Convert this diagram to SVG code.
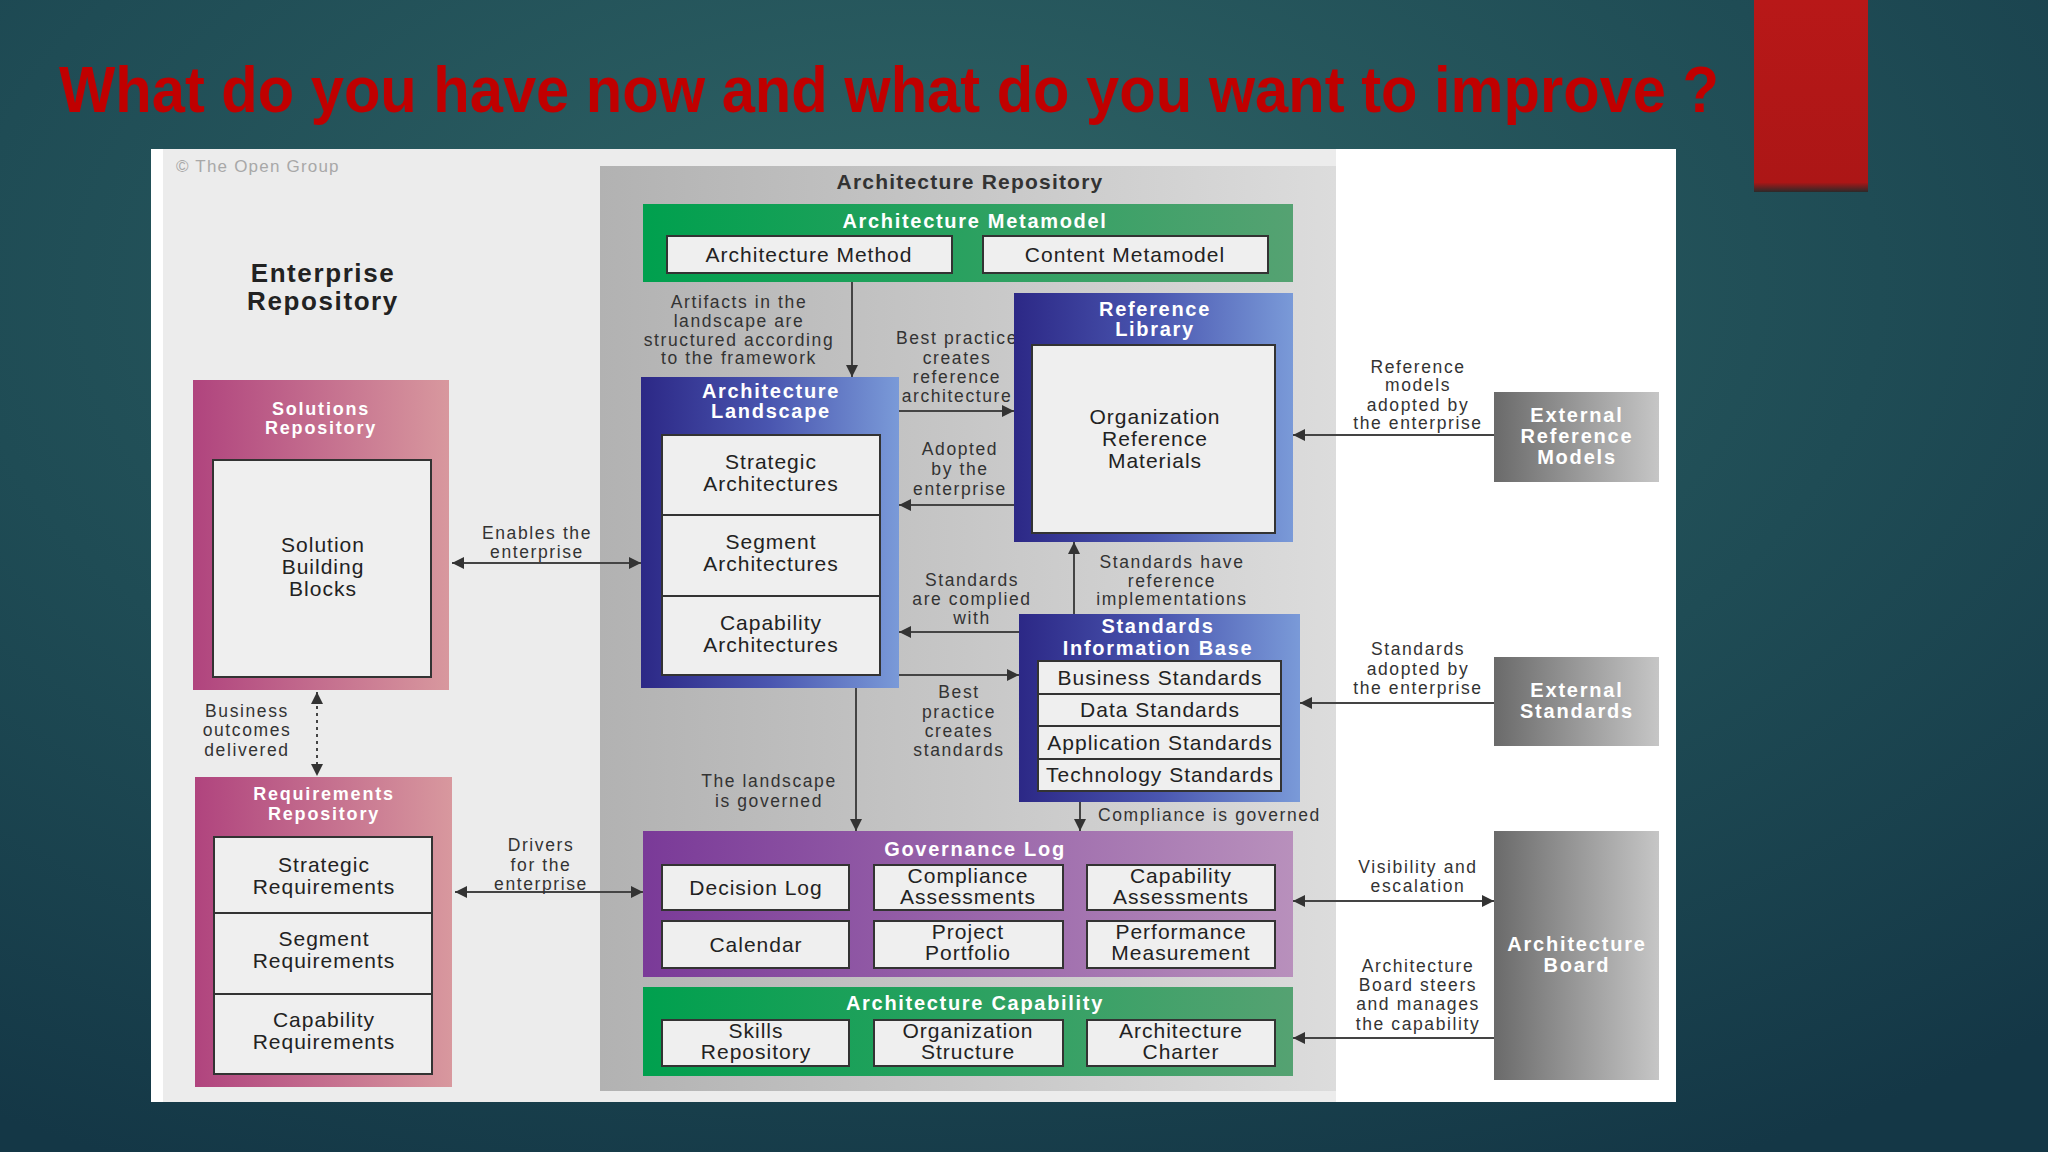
<svg xmlns="http://www.w3.org/2000/svg" width="2048" height="1152" viewBox="0 0 2048 1152">
<defs>
  <radialGradient id="bg" cx="0.45" cy="0.25" r="0.85">
    <stop offset="0" stop-color="#2f6466"/>
    <stop offset="0.55" stop-color="#1f4c55"/>
    <stop offset="1" stop-color="#143746"/>
  </radialGradient>
  <linearGradient id="gRepo" x1="0" y1="0" x2="1" y2="0">
    <stop offset="0" stop-color="#b2b2b2"/>
    <stop offset="1" stop-color="#dcdcdc"/>
  </linearGradient>
  <linearGradient id="gPink" x1="0" y1="0" x2="1" y2="0">
    <stop offset="0" stop-color="#b0447e"/>
    <stop offset="1" stop-color="#d8989e"/>
  </linearGradient>
  <linearGradient id="gBlue" x1="0" y1="0" x2="1" y2="0">
    <stop offset="0" stop-color="#2c2886"/>
    <stop offset="0.5" stop-color="#4a56b0"/>
    <stop offset="1" stop-color="#7a9ad8"/>
  </linearGradient>
  <linearGradient id="gPurple" x1="0" y1="0" x2="1" y2="0">
    <stop offset="0" stop-color="#7a3a98"/>
    <stop offset="1" stop-color="#b890bc"/>
  </linearGradient>
  <linearGradient id="gGreen" x1="0" y1="0" x2="1" y2="0">
    <stop offset="0" stop-color="#00a04e"/>
    <stop offset="1" stop-color="#55a272"/>
  </linearGradient>
  <linearGradient id="gGray" x1="0" y1="0" x2="1" y2="0">
    <stop offset="0" stop-color="#6a6a6a"/>
    <stop offset="1" stop-color="#c6c6c6"/>
  </linearGradient>
  <linearGradient id="gRed" x1="0" y1="0" x2="0" y2="1">
    <stop offset="0" stop-color="#b81818"/>
    <stop offset="0.95" stop-color="#ac1616"/>
    <stop offset="1" stop-color="#2a2a2a"/>
  </linearGradient>
  <marker id="ah" viewBox="0 0 10 10" refX="10" refY="5" markerWidth="12" markerHeight="12" markerUnits="userSpaceOnUse" orient="auto-start-reverse">
    <path d="M0,0 L10,5 L0,10 Z" fill="#333"/>
  </marker>
  <style>
    .inner { fill: #efefef; stroke: #333; stroke-width: 2; }
    .it { font-family: "Liberation Sans", Arial, sans-serif; font-size: 21px; fill: #222; text-anchor: middle; letter-spacing: 1px; }
    .ttl { font-family: "Liberation Sans", Arial, sans-serif; font-size: 20px; font-weight: bold; fill: #fff; text-anchor: middle; letter-spacing: 1.7px; }
    .ttls { font-size: 18px; letter-spacing: 1.8px; }
    .ext { font-family: "Liberation Sans", Arial, sans-serif; font-size: 20px; font-weight: bold; fill: #fff; text-anchor: middle; letter-spacing: 1.8px; }
    .lbl { font-family: "Liberation Sans", Arial, sans-serif; font-size: 17.5px; fill: #333; text-anchor: middle; letter-spacing: 1.6px; }
    .lbls { text-anchor: start; }
    .conn { stroke: #444; stroke-width: 2; fill: none; }
  </style>
</defs>

<!-- slide background -->
<rect x="0" y="0" width="2048" height="1152" fill="url(#bg)"/>
<rect x="1754" y="0" width="114" height="192" fill="url(#gRed)"/>
<text x="59" y="112" font-family="'Liberation Sans', Arial, sans-serif" font-size="64" font-weight="bold" fill="#c00000" textLength="1660" lengthAdjust="spacingAndGlyphs">What do you have now and what do you want to improve ?</text>

<!-- diagram panel -->
<rect x="151" y="149" width="1525" height="953" fill="#ffffff"/>
<rect x="163" y="149" width="437" height="953" fill="#ececec"/>
<rect x="600" y="149" width="736" height="953" fill="#ececec"/>
<text x="176" y="172" font-family="'Liberation Sans', Arial, sans-serif" font-size="17" letter-spacing="1.2" fill="#a8a8a8">© The Open Group</text>

<g id="architecture-repository">
  <rect x="600" y="166" width="736" height="925" fill="url(#gRepo)"/>
  <text x="970" y="189" font-family="'Liberation Sans', Arial, sans-serif" font-size="21" font-weight="bold" fill="#333" text-anchor="middle" letter-spacing="1.2">Architecture Repository</text>
</g>

<g id="enterprise-repository">
  <text x="323" y="282" font-family="'Liberation Sans', Arial, sans-serif" font-size="26" font-weight="bold" fill="#222" text-anchor="middle" letter-spacing="1.6">Enterprise</text>
  <text x="323" y="310" font-family="'Liberation Sans', Arial, sans-serif" font-size="26" font-weight="bold" fill="#222" text-anchor="middle" letter-spacing="1.6">Repository</text>
</g>

<!-- connectors -->
<g id="connectors">
  <line class="conn" x1="452" y1="563" x2="641" y2="563" marker-start="url(#ah)" marker-end="url(#ah)"/>
  <line class="conn" x1="455" y1="892" x2="643" y2="892" marker-start="url(#ah)" marker-end="url(#ah)"/>
  <line class="conn" x1="317" y1="692" x2="317" y2="776" stroke-dasharray="3,4" marker-start="url(#ah)" marker-end="url(#ah)"/>
  <line class="conn" x1="852" y1="282" x2="852" y2="377" marker-end="url(#ah)"/>
  <line class="conn" x1="899" y1="411" x2="1014" y2="411" marker-end="url(#ah)"/>
  <line class="conn" x1="1014" y1="505" x2="899" y2="505" marker-end="url(#ah)"/>
  <line class="conn" x1="1074" y1="614" x2="1074" y2="542" marker-end="url(#ah)"/>
  <line class="conn" x1="1019" y1="632" x2="899" y2="632" marker-end="url(#ah)"/>
  <line class="conn" x1="899" y1="675" x2="1019" y2="675" marker-end="url(#ah)"/>
  <line class="conn" x1="856" y1="688" x2="856" y2="831" marker-end="url(#ah)"/>
  <line class="conn" x1="1080" y1="802" x2="1080" y2="831" marker-end="url(#ah)"/>
  <line class="conn" x1="1494" y1="435" x2="1293" y2="435" marker-end="url(#ah)"/>
  <line class="conn" x1="1494" y1="703" x2="1300" y2="703" marker-end="url(#ah)"/>
  <line class="conn" x1="1293" y1="901" x2="1494" y2="901" marker-start="url(#ah)" marker-end="url(#ah)"/>
  <line class="conn" x1="1494" y1="1038" x2="1293" y2="1038" marker-end="url(#ah)"/>

  <text class="lbl" x="537" y="539">Enables the</text>
  <text class="lbl" x="537" y="558">enterprise</text>
  <text class="lbl" x="541" y="851">Drivers</text>
  <text class="lbl" x="541" y="871">for the</text>
  <text class="lbl" x="541" y="890">enterprise</text>
  <text class="lbl" x="247" y="717">Business</text>
  <text class="lbl" x="247" y="736">outcomes</text>
  <text class="lbl" x="247" y="756">delivered</text>
  <text class="lbl" x="739" y="308">Artifacts in the</text>
  <text class="lbl" x="739" y="327">landscape are</text>
  <text class="lbl" x="739" y="346">structured according</text>
  <text class="lbl" x="739" y="364">to the framework</text>
  <text class="lbl" x="957" y="344">Best practice</text>
  <text class="lbl" x="957" y="364">creates</text>
  <text class="lbl" x="957" y="383">reference</text>
  <text class="lbl" x="957" y="402">architecture</text>
  <text class="lbl" x="960" y="455">Adopted</text>
  <text class="lbl" x="960" y="475">by the</text>
  <text class="lbl" x="960" y="495">enterprise</text>
  <text class="lbl" x="1172" y="568">Standards have</text>
  <text class="lbl" x="1172" y="587">reference</text>
  <text class="lbl" x="1172" y="605">implementations</text>
  <text class="lbl" x="972" y="586">Standards</text>
  <text class="lbl" x="972" y="605">are complied</text>
  <text class="lbl" x="972" y="624">with</text>
  <text class="lbl" x="959" y="698">Best</text>
  <text class="lbl" x="959" y="718">practice</text>
  <text class="lbl" x="959" y="737">creates</text>
  <text class="lbl" x="959" y="756">standards</text>
  <text class="lbl" x="769" y="787">The landscape</text>
  <text class="lbl" x="769" y="807">is governed</text>
  <text class="lbl lbls" x="1098" y="821">Compliance is governed</text>
  <text class="lbl" x="1418" y="373">Reference</text>
  <text class="lbl" x="1418" y="391">models</text>
  <text class="lbl" x="1418" y="411">adopted by</text>
  <text class="lbl" x="1418" y="429">the enterprise</text>
  <text class="lbl" x="1418" y="655">Standards</text>
  <text class="lbl" x="1418" y="675">adopted by</text>
  <text class="lbl" x="1418" y="694">the enterprise</text>
  <text class="lbl" x="1418" y="873">Visibility and</text>
  <text class="lbl" x="1418" y="892">escalation</text>
  <text class="lbl" x="1418" y="972">Architecture</text>
  <text class="lbl" x="1418" y="991">Board steers</text>
  <text class="lbl" x="1418" y="1010">and manages</text>
  <text class="lbl" x="1418" y="1030">the capability</text>
</g>

<g id="solutions-repository">
  <rect x="193" y="380" width="256" height="310" fill="url(#gPink)"/>
  <text class="ttl ttls" x="321" y="415">Solutions</text>
  <text class="ttl ttls" x="321" y="434">Repository</text>
  <rect class="inner" x="213" y="460" width="218" height="217"/>
  <text class="it" x="323" y="552">Solution</text>
  <text class="it" x="323" y="574">Building</text>
  <text class="it" x="323" y="596">Blocks</text>
</g>

<g id="requirements-repository">
  <rect x="195" y="777" width="257" height="310" fill="url(#gPink)"/>
  <text class="ttl ttls" x="324" y="800">Requirements</text>
  <text class="ttl ttls" x="324" y="820">Repository</text>
  <rect class="inner" x="214" y="837" width="218" height="76"/>
  <rect class="inner" x="214" y="913" width="218" height="81"/>
  <rect class="inner" x="214" y="994" width="218" height="80"/>
  <text class="it" x="324" y="872">Strategic</text>
  <text class="it" x="324" y="894">Requirements</text>
  <text class="it" x="324" y="946">Segment</text>
  <text class="it" x="324" y="968">Requirements</text>
  <text class="it" x="324" y="1027">Capability</text>
  <text class="it" x="324" y="1049">Requirements</text>
</g>

<g id="architecture-metamodel">
  <rect x="643" y="204" width="650" height="78" fill="url(#gGreen)"/>
  <text class="ttl" x="975" y="228">Architecture Metamodel</text>
  <rect class="inner" x="667" y="236" width="285" height="37"/>
  <rect class="inner" x="983" y="236" width="285" height="37"/>
  <text class="it" x="809" y="262">Architecture Method</text>
  <text class="it" x="1125" y="262">Content Metamodel</text>
</g>

<g id="architecture-landscape">
  <rect x="641" y="377" width="258" height="311" fill="url(#gBlue)"/>
  <text class="ttl" x="771" y="398">Architecture</text>
  <text class="ttl" x="771" y="418">Landscape</text>
  <rect class="inner" x="662" y="435" width="218" height="80"/>
  <rect class="inner" x="662" y="515" width="218" height="81"/>
  <rect class="inner" x="662" y="596" width="218" height="79"/>
  <text class="it" x="771" y="469">Strategic</text>
  <text class="it" x="771" y="491">Architectures</text>
  <text class="it" x="771" y="549">Segment</text>
  <text class="it" x="771" y="571">Architectures</text>
  <text class="it" x="771" y="630">Capability</text>
  <text class="it" x="771" y="652">Architectures</text>
</g>

<g id="reference-library">
  <rect x="1014" y="293" width="279" height="249" fill="url(#gBlue)"/>
  <text class="ttl" x="1155" y="316">Reference</text>
  <text class="ttl" x="1155" y="336">Library</text>
  <rect class="inner" x="1032" y="345" width="243" height="188"/>
  <text class="it" x="1155" y="424">Organization</text>
  <text class="it" x="1155" y="446">Reference</text>
  <text class="it" x="1155" y="468">Materials</text>
</g>

<g id="standards-information-base">
  <rect x="1019" y="614" width="281" height="188" fill="url(#gBlue)"/>
  <text class="ttl" x="1158" y="633">Standards</text>
  <text class="ttl" x="1158" y="655">Information Base</text>
  <rect class="inner" x="1038" y="661" width="243" height="33"/>
  <rect class="inner" x="1038" y="694" width="243" height="32"/>
  <rect class="inner" x="1038" y="726" width="243" height="33"/>
  <rect class="inner" x="1038" y="759" width="243" height="32"/>
  <text class="it" x="1160" y="685">Business Standards</text>
  <text class="it" x="1160" y="717">Data Standards</text>
  <text class="it" x="1160" y="750">Application Standards</text>
  <text class="it" x="1160" y="782">Technology Standards</text>
</g>

<g id="governance-log">
  <rect x="643" y="831" width="650" height="146" fill="url(#gPurple)"/>
  <text class="ttl" x="975" y="856">Governance Log</text>
  <rect class="inner" x="662" y="865" width="187" height="45"/>
  <rect class="inner" x="874" y="865" width="189" height="45"/>
  <rect class="inner" x="1087" y="865" width="188" height="45"/>
  <rect class="inner" x="662" y="921" width="187" height="47"/>
  <rect class="inner" x="874" y="921" width="189" height="47"/>
  <rect class="inner" x="1087" y="921" width="188" height="47"/>
  <text class="it" x="756" y="895">Decision Log</text>
  <text class="it" x="968" y="883">Compliance</text>
  <text class="it" x="968" y="904">Assessments</text>
  <text class="it" x="1181" y="883">Capability</text>
  <text class="it" x="1181" y="904">Assessments</text>
  <text class="it" x="756" y="952">Calendar</text>
  <text class="it" x="968" y="939">Project</text>
  <text class="it" x="968" y="960">Portfolio</text>
  <text class="it" x="1181" y="939">Performance</text>
  <text class="it" x="1181" y="960">Measurement</text>
</g>

<g id="architecture-capability">
  <rect x="643" y="987" width="650" height="89" fill="url(#gGreen)"/>
  <text class="ttl" x="975" y="1010">Architecture Capability</text>
  <rect class="inner" x="662" y="1020" width="187" height="46"/>
  <rect class="inner" x="874" y="1020" width="189" height="46"/>
  <rect class="inner" x="1087" y="1020" width="188" height="46"/>
  <text class="it" x="756" y="1038">Skills</text>
  <text class="it" x="756" y="1059">Repository</text>
  <text class="it" x="968" y="1038">Organization</text>
  <text class="it" x="968" y="1059">Structure</text>
  <text class="it" x="1181" y="1038">Architecture</text>
  <text class="it" x="1181" y="1059">Charter</text>
</g>

<g id="external-reference-models">
  <rect x="1494" y="392" width="165" height="90" fill="url(#gGray)"/>
  <text class="ext" x="1577" y="422">External</text>
  <text class="ext" x="1577" y="443">Reference</text>
  <text class="ext" x="1577" y="464">Models</text>
</g>

<g id="external-standards">
  <rect x="1494" y="657" width="165" height="89" fill="url(#gGray)"/>
  <text class="ext" x="1577" y="697">External</text>
  <text class="ext" x="1577" y="718">Standards</text>
</g>

<g id="architecture-board">
  <rect x="1494" y="831" width="165" height="249" fill="url(#gGray)"/>
  <text class="ext" x="1577" y="951">Architecture</text>
  <text class="ext" x="1577" y="972">Board</text>
</g>
</svg>
